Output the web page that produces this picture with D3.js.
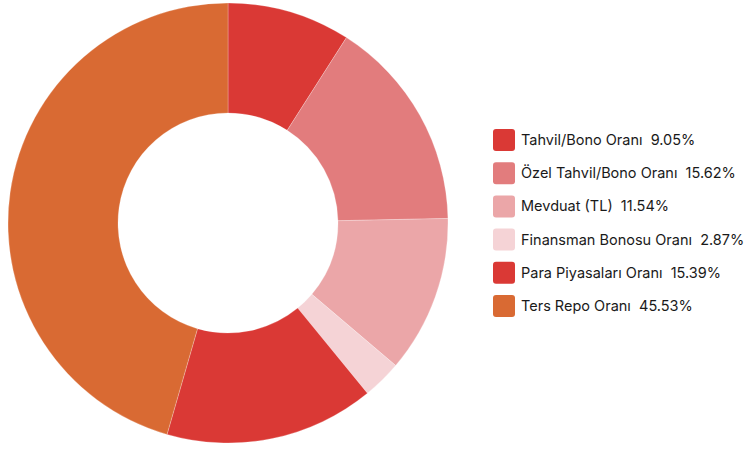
<!DOCTYPE html>
<html>
<head>
<meta charset="utf-8">
<script src="https://cdn.jsdelivr.net/npm/d3@7"></script>
<style>
  body { margin: 0; background: #fff; }
  svg { display: block; }
</style>
</head>
<body>
<div id="chart"></div>
<script>
var width = 750
var height = 450

var labels = ["Tahvil/Bono Oranı", "Özel Tahvil/Bono Oranı", "Mevduat (TL)", "Finansman Bonosu Oranı", "Para Piyasaları Oranı", "Ters Repo Oranı"]
var values = [9.05, 15.62, 11.54, 2.87, 15.39, 45.53]
var colors = ["#da3935", "#e27c7d", "#eba6a8", "#f5d3d6", "#da3935", "#d96a33"]

var data = labels.map((l, i) => ({ label: l, value: values[i], color: colors[i] }))

var svg = d3.select("#chart")
    .append("svg")
    .attr("width", width)
    .attr("height", height)

var outer = 220, inner = 110

var g = svg.append("g")
    .attr("transform", "translate(228,223)")

// keep the input order, clockwise from 12 o'clock
var pie = d3.pie()
    .sort(null)
    .value(d => d.value)

var arc = d3.arc()
    .innerRadius(inner)
    .outerRadius(outer)

g.selectAll("path")
    .data(pie(data))
    .enter()
    .append("path")
        .attr("d", arc)
        .style("fill", d => d.data.color)
        .style("stroke", "rgba(255,255,255,.6)")
        .style("stroke-width", 0.4)

// legend on the right
var y = d3.scalePoint()
    .domain(labels)
    .range([140, 306])

var legend = svg.append("g")
    .selectAll("g")
    .data(data)
    .enter()
    .append("g")
    .attr("transform", d => "translate(493," + y(d.label) + ")")

legend.append("rect")
    .attr("x", 0)
    .attr("y", -11)
    .attr("width", 22)
    .attr("height", 22)
    .attr("rx", 3)
    .style("fill", d => d.color)

legend.append("text")
    .attr("x", 28)
    .attr("dy", "0.35em")
    .style("font-family", "Inter, 'Noto Sans', sans-serif")
    .style("font-size", "14.5px")
    .style("fill", "#1a1a1a")
    .attr("xml:space", "preserve")
    .text(d => d.label + "  " + d.value.toFixed(2) + "%")
</script>
</body>
</html>
